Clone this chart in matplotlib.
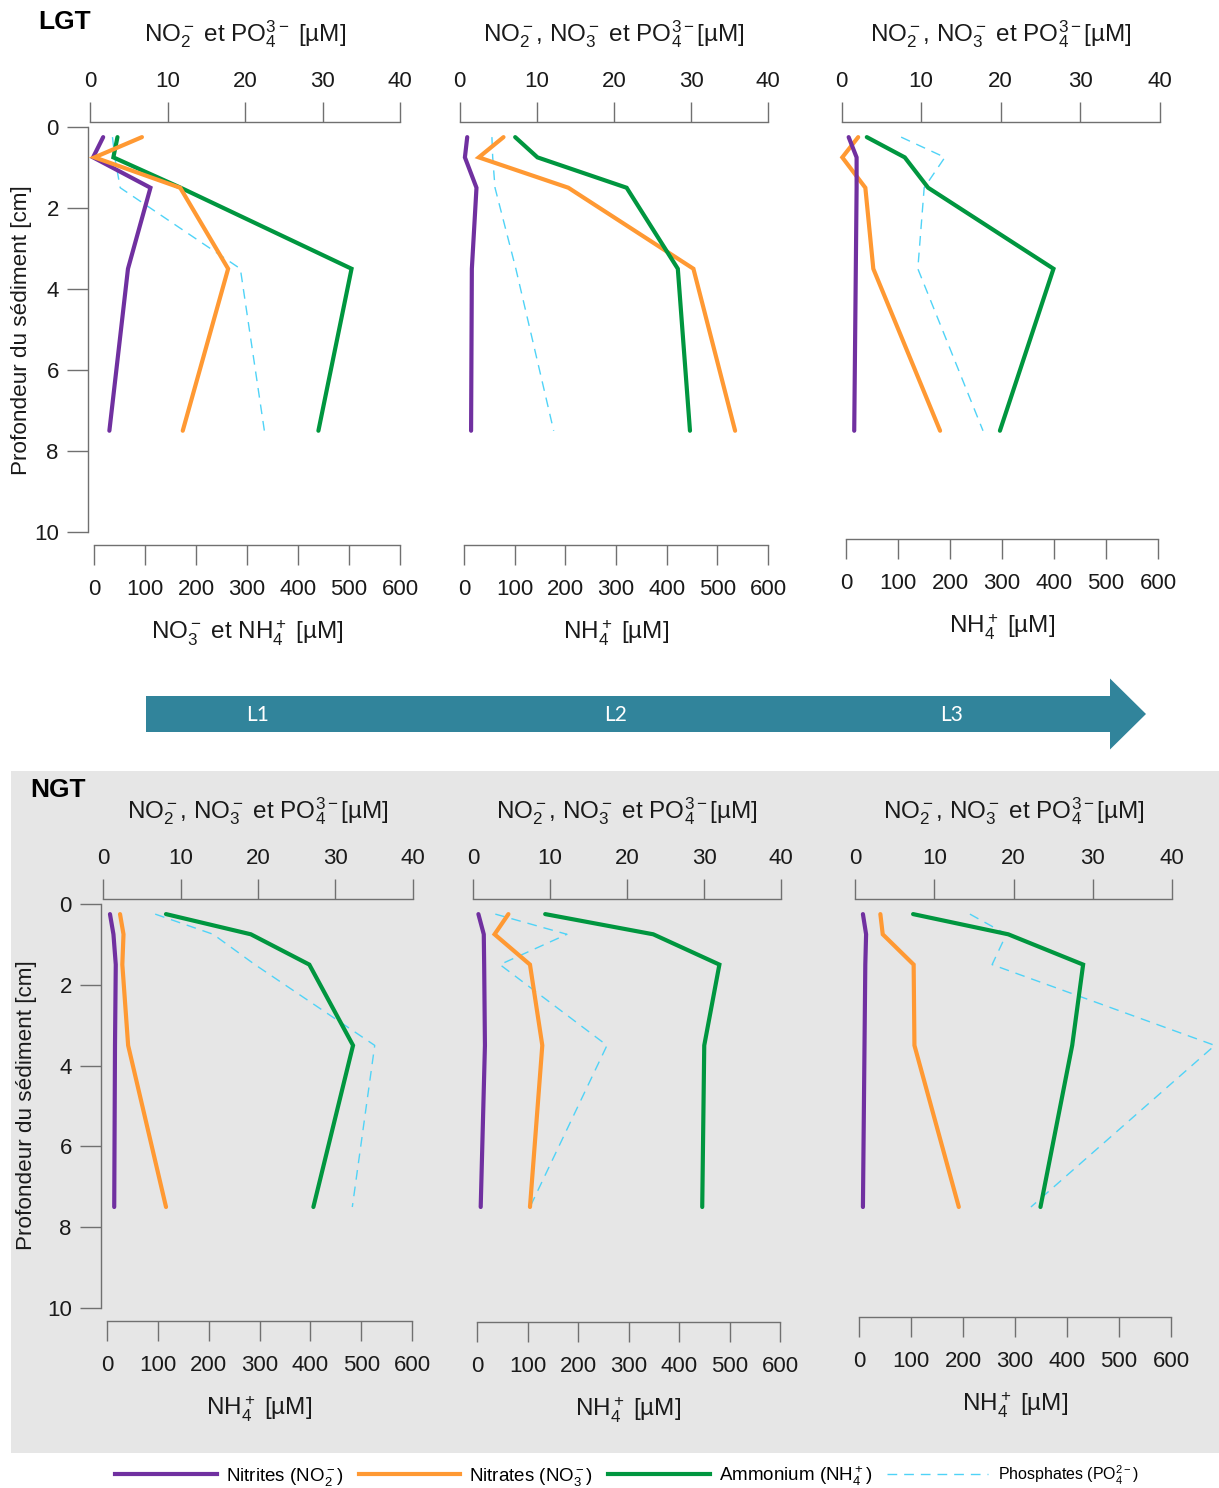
import matplotlib
matplotlib.use('Agg')
import matplotlib.pyplot as plt
from matplotlib.patches import FancyArrow, Rectangle

plt.rcParams['font.family'] = 'Liberation Sans'
plt.rcParams['mathtext.fontset'] = 'custom'
plt.rcParams['mathtext.rm'] = 'Liberation Sans'
plt.rcParams['mathtext.it'] = 'Liberation Sans:italic'
plt.rcParams['mathtext.bf'] = 'Liberation Sans:bold'
plt.rcParams['mathtext.default'] = 'regular'

# depth of the samples [cm]
depth = [0.25, 0.75, 1.5, 3.5, 7.5]

# ---- LGT ----
# L1 : NO2 / PO4 on the top scale, NO3 / NH4 on the bottom scale
lgt1_no2 = [1.7, 0.4, 7.8, 4.9, 2.5]
lgt1_no3 = [94, 1, 169, 263, 174]
lgt1_nh4 = [46, 38, 170, 505, 440]
lgt1_po4 = [2.9, 3.2, 3.9, 19.4, 22.5]
# L2
lgt2_no2 = [1.0, 0.7, 2.2, 1.6, 1.5]
lgt2_no3 = [5.7, 2.5, 14.1, 30.3, 35.7]
lgt2_nh4 = [101, 145, 321, 422, 446]
lgt2_po4 = [4.2, 4.3, 4.6, 7.3, 12.2]
# L3
lgt3_no2 = [0.9, 1.9, 1.9, 1.8, 1.6]
lgt3_no3 = [2.1, 0.1, 3.0, 4.0, 12.4]
lgt3_nh4 = [40, 113, 158, 399, 296]
lgt3_po4 = [7.5, 13.0, 10.4, 9.6, 17.8]

# ---- NGT ----
ngt1_no2 = [0.85, 1.3, 1.6, 1.5, 1.4]
ngt1_no3 = [2.15, 2.6, 2.45, 3.2, 8.1]
ngt1_nh4 = [116, 283, 398, 484, 406]
ngt1_po4 = [6.7, 14.2, 19.6, 35.1, 32.2]

ngt2_no2 = [0.7, 1.4, 1.45, 1.55, 1.0]
ngt2_no3 = [4.6, 2.8, 7.4, 9.0, 7.4]
ngt2_nh4 = [135, 349, 480, 450, 446]
ngt2_po4 = [2.9, 12.2, 3.5, 17.4, 7.4]

ngt3_no2 = [1.0, 1.4, 1.3, 1.2, 1.0]
ngt3_no3 = [3.2, 3.5, 7.4, 7.5, 13.1]
ngt3_nh4 = [104, 287, 431, 410, 349]
ngt3_po4 = [14.5, 19.1, 17.3, 45.4, 22.2]

top_ticks = [0, 10, 20, 30, 40]
bot_ticks = [0, 100, 200, 300, 400, 500, 600]
depth_ticks = [0, 2, 4, 6, 8, 10]

c_no2 = '#7030a0'
c_no3 = '#ff9933'
c_nh4 = '#00963f'
c_po4 = '#4fd3f7'
spine_c = '#707070'
txt_c = '#1a1a1a'
tick_fs = 16

W, H = 1219, 1488
fig = plt.figure(figsize=(W / 100, H / 100), dpi=100)

# background layer (pixel coordinates)
ov = fig.add_axes([0, 0, 1, 1], zorder=-1)
ov.set_xlim(0, W)
ov.set_ylim(H, 0)
ov.axis('off')
ov.add_patch(Rectangle((11, 771), W - 11, 1453 - 771, color='#e6e6e6', lw=0))
ov.add_patch(FancyArrow(146, 714, 1000, 0, width=36, head_width=71, head_length=36,
                        length_includes_head=True, color='#31849b', lw=0))
for lab, xx in [('L1', 258), ('L2', 616), ('L3', 952)]:
    ov.text(xx, 715, lab, color='white', fontsize=15, family='Lato',
            ha='center', va='center')
ov.text(38, 22, 'LGT', fontsize=19, fontweight='bold', va='center', ha='left')
ov.text(30, 790, 'NGT', fontsize=19, fontweight='bold', va='center', ha='left')
ov.text(22, 330, 'Profondeur du sédiment [cm]', fontsize=16.2, rotation=90,
        ha='center', va='center', color=txt_c)
ov.text(27, 1105, 'Profondeur du sédiment [cm]', fontsize=16.2, rotation=90,
        ha='center', va='center', color=txt_c)

t_a = 'NO$_2^-$ et PO$_4^{3-}$ [µM]'
t_b = 'NO$_2^-$, NO$_3^-$ et PO$_4^{3-}$[µM]'
b_a = 'NO$_3^-$ et NH$_4^+$ [µM]'
b_b = 'NH$_4^+$ [µM]'


def panel(geom, no2, no3, nh4, po4, no3_bottom, left_axis, top_title, bot_title):
    # geom: pixel positions of top scale 0/40, bottom scale 0/600, depth 0/10, axis lines
    x0, x1, b0, b1, y0, y1, top_line, bot_line, left_line = geom
    rect = [x0 / W, 1 - y1 / H, (x1 - x0) / W, (y1 - y0) / H]
    ax = fig.add_axes(rect)
    ax2 = fig.add_axes(rect)
    for a in (ax, ax2):
        a.patch.set_visible(False)
        a.set_ylim(10, 0)
    ax.set_xlim(0, 40)
    s = (b1 - b0) / 600
    lo = -(b0 - x0) / s
    ax2.set_xlim(lo, lo + (x1 - x0) / s)

    ax.plot(po4, depth, color=c_po4, lw=1.0, dashes=(7, 5), clip_on=False)
    ax2.plot(nh4, depth, color=c_nh4, lw=3, clip_on=False, solid_capstyle='round',
             solid_joinstyle='miter')
    (ax2 if no3_bottom else ax).plot(no3, depth, color=c_no3, lw=3, clip_on=False,
                                     solid_capstyle='round', solid_joinstyle='miter')
    ax.plot(no2, depth, color=c_no2, lw=3, clip_on=False, solid_capstyle='round',
            solid_joinstyle='miter')

    # top scale
    ax.xaxis.tick_top()
    ax.set_xticks(top_ticks)
    ax.tick_params(axis='x', direction='out', length=14.5, width=1, color=spine_c,
                   pad=7, labelsize=tick_fs, labelcolor=txt_c)
    ax.spines['top'].set_position(('outward', (y0 - top_line) * 0.72))
    for sp in ('bottom', 'right'):
        ax.spines[sp].set_visible(False)
    if left_axis:
        ax.spines['left'].set_position(('outward', (x0 - left_line) * 0.72))
        ax.set_yticks(depth_ticks)
        ax.tick_params(axis='y', direction='out', length=15, width=1, color=spine_c,
                       pad=6, labelsize=tick_fs, labelcolor=txt_c)
    else:
        ax.spines['left'].set_visible(False)
        ax.set_yticks([])
    for sp in ('left', 'top'):
        ax.spines[sp].set_color(spine_c)
        ax.spines[sp].set_linewidth(1)

    # bottom scale
    for sp in ('top', 'left', 'right'):
        ax2.spines[sp].set_visible(False)
    ax2.spines['bottom'].set_position(('outward', (bot_line - y1) * 0.72))
    ax2.spines['bottom'].set_bounds(0, 600)
    ax2.spines['bottom'].set_color(spine_c)
    ax2.spines['bottom'].set_linewidth(1)
    ax2.set_xticks(bot_ticks)
    ax2.set_yticks([])
    ax2.tick_params(axis='x', direction='out', length=14.5, width=1, color=spine_c,
                    pad=10, labelsize=tick_fs, labelcolor=txt_c)

    cx = (x0 + x1) / 2
    ov.text(cx, top_line - 88, top_title, fontsize=17.5, ha='center', va='center',
            color=txt_c)
    ov.text((b0 + b1) / 2, bot_line + 88, bot_title, fontsize=17.5, ha='center',
            va='center', color=txt_c)
    return ax, ax2


panel((90, 400, 94, 400, 127, 532, 122, 545, 88),
      lgt1_no2, lgt1_no3, lgt1_nh4, lgt1_po4, True, True, t_a, b_a)
panel((459.5, 768.3, 464, 768, 127, 532, 122, 545, 0),
      lgt2_no2, lgt2_no3, lgt2_nh4, lgt2_po4, False, False, t_b, b_b)
panel((841.5, 1159.5, 846, 1158, 127, 532, 122, 539, 0),
      lgt3_no2, lgt3_no3, lgt3_nh4, lgt3_po4, False, False, t_b, b_b)
panel((103.4, 412.6, 107, 412, 904, 1308, 899, 1321, 101),
      ngt1_no2, ngt1_no3, ngt1_nh4, ngt1_po4, False, True, t_b, b_b)
panel((473, 781, 477, 780, 904, 1308, 899, 1322, 0),
      ngt2_no2, ngt2_no3, ngt2_nh4, ngt2_po4, False, False, t_b, b_b)
panel((855, 1172, 859, 1171, 904, 1308, 899, 1317, 0),
      ngt3_no2, ngt3_no3, ngt3_nh4, ngt3_po4, False, False, t_b, b_b)

# legend
handles = [plt.Line2D([], [], color=c_no2, lw=3),
           plt.Line2D([], [], color=c_no3, lw=3),
           plt.Line2D([], [], color=c_nh4, lw=3),
           plt.Line2D([], [], color=c_po4, lw=1, dashes=(7, 5))]
labels = ['Nitrites (NO$_2^-$)', 'Nitrates (NO$_3^-$)', 'Ammonium (NH$_4^+$)',
          'Phosphates (PO$_4^{2-}$)']
leg = fig.legend(handles, labels, loc='center', bbox_to_anchor=(627 / W, 1 - 1476 / H),
                 ncol=4, frameon=False, fontsize=13.5, handlelength=5.4,
                 handletextpad=0.5, columnspacing=0.8)
leg.get_texts()[3].set_fontsize(11.5)

fig.savefig('out.png', dpi=100)
